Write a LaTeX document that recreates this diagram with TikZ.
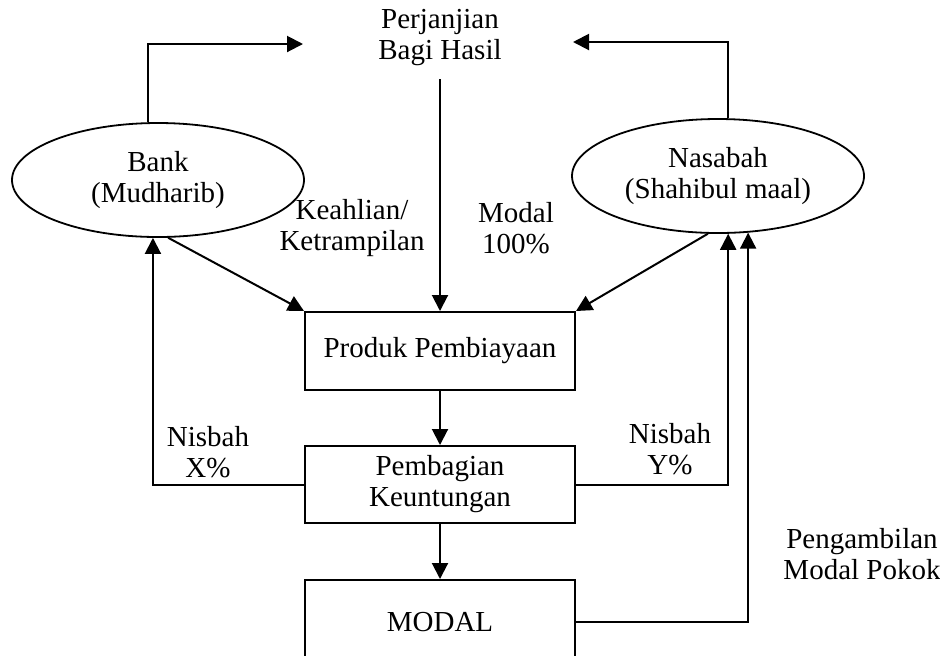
\documentclass[tikz,border=0pt]{standalone}
\usepackage{fontspec}
\setmainfont{Liberation Serif}
\usetikzlibrary{shapes.geometric,arrows.meta}

\begin{document}
\begin{tikzpicture}[x=0.5pt,y=-0.5pt,
    font=\fontsize{14.5}{15.5}\selectfont,
    every node/.style={align=center},
    party/.style={draw,ellipse,line width=.9pt,minimum width=146pt,
      minimum height=57pt,inner sep=0pt},
    box/.style={draw,line width=1pt,minimum width=135pt,inner sep=0pt},
    arr/.style={line width=1pt,-{Triangle[length=8pt,width=8pt]}}]
  \clip (0,0) rectangle (940,655);
  % the two parties
  \node[party] (bank) at (158,180) {Bank\\(Mudharib)};
  \node[party] (nasabah) at (718,176) {Nasabah\\(Shahibul maal)};
  \node (perjanjian) at (440,38) {Perjanjian\\Bagi Hasil};
  \coordinate (pl) at (303,44);
  \coordinate (pr) at (573,42);
  % the chain in the middle
  \node[box,minimum height=39pt] (produk) at (440,351) {Produk Pembiayaan};
  \node[box,minimum height=38.5pt] (pembagian) at (440,484.5)
    {Pembagian\\Keuntungan};
  \node[box,minimum height=42pt] (modal) at (440,622) {MODAL};
  % labels
  \node (keahlian) at (352,228) {Keahlian/\\Ketrampilan};
  \node (modalpct) at (516,228) {Modal\\100\%};
  \node (nisbahx) at (208,452) {Nisbah\\X\%};
  \node (nisbahy) at (670,449) {Nisbah\\Y\%};
  \node (pengambilan) at (862,554) {Pengambilan\\Modal Pokok};
  % connectors
  \draw[arr] (bank.100) |- (pl);
  \draw[arr] (nasabah.80) |- (pr);
  \draw[arr] ([yshift=-3pt]perjanjian.south) -- (produk.north);
  \draw[arr] (bank.-80) -- (produk.north west);
  \draw[arr] (nasabah.-100) -- (produk.north east);
  \draw[arr] (produk) -- (pembagian);
  \draw[arr] (pembagian) -- (modal);
  \draw[arr] (pembagian.west) -| (bank.-95);
  \draw[arr] (pembagian.east) -| (nasabah.-80);
  \draw[arr] (modal.east) -| (nasabah.-62);
\end{tikzpicture}
\end{document}
